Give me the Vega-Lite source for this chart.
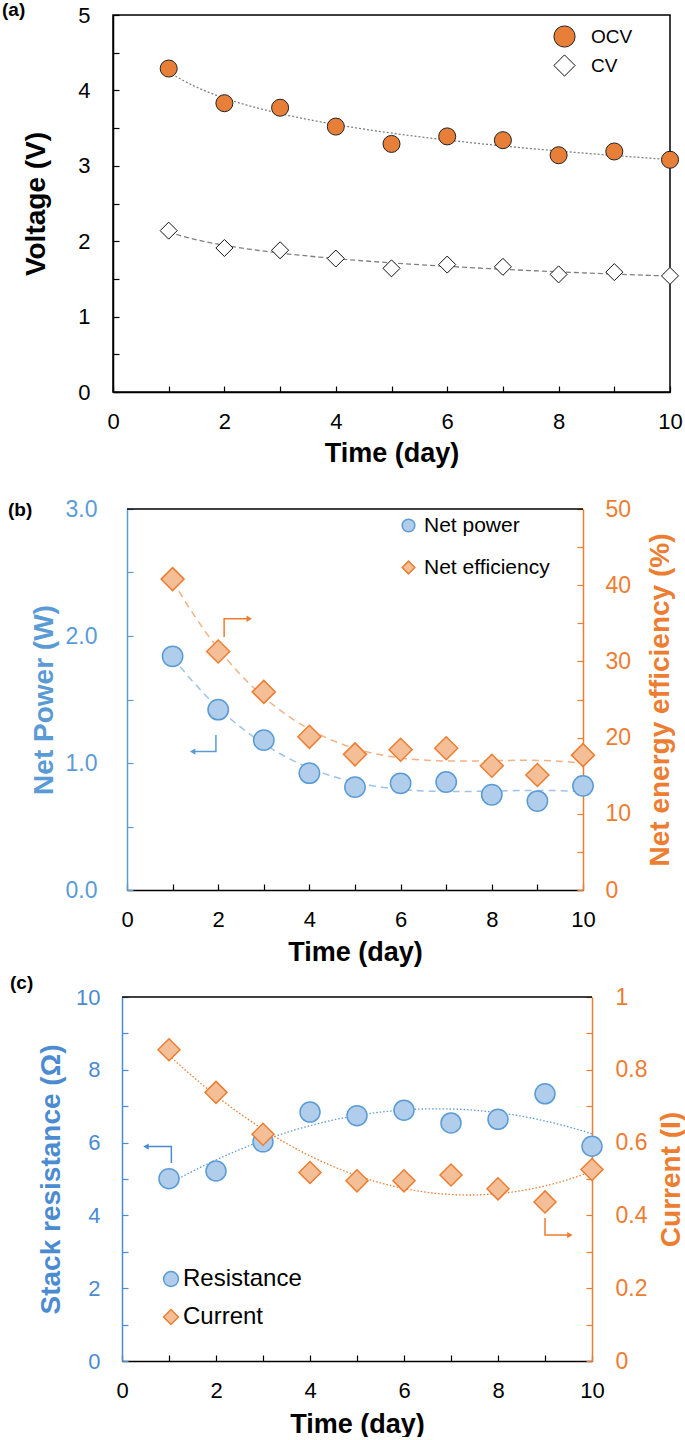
{
  "$schema": "https://vega.github.io/schema/vega-lite/v6.json",
  "padding": {"left": 0, "top": 0, "right": 0, "bottom": 0},
  "background": "#ffffff",
  "config": {
    "font": "Liberation Sans",
    "view": {"stroke": null},
    "axis": {"labelFont": "Liberation Sans", "titleFont": "Liberation Sans", "labelFontSize": 22, "titleFontSize": 28, "titleFontWeight": "bold", "grid": false, "tickSize": -6, "tickWidth": 1.2, "domainWidth": 1.5, "labelColor": "#000", "titleColor": "#000", "domainColor": "#000", "tickColor": "#000", "labelFlush": false, "labelOverlap": false},
    "legend": {"labelFont": "Liberation Sans", "padding": 0, "title": null},
    "title": {"font": "Liberation Sans", "fontSize": 19, "fontWeight": "bold", "anchor": "start", "frame": "group", "baseline": "middle", "color": "#000"}
  },
  "spacing": 31,
  "resolve": {"scale": {"fill": "independent", "stroke": "independent", "shape": "independent"}, "legend": {"fill": "independent", "stroke": "independent", "shape": "independent"}},
  "vconcat": [
    {
      "spacing": 0,
      "resolve": {"scale": {"fill": "independent", "stroke": "independent", "shape": "independent"}, "legend": {"fill": "independent", "stroke": "independent", "shape": "independent"}},
      "hconcat": [
        {"width": 1, "height": 1, "data": {"values": [{}]}, "mark": {"type": "text", "text": ""}, "encoding": {}},
        {
          "width": 557,
          "height": 377,
          "title": {"text": "(a)", "dx": -111, "offset": -16},
          "view": {"stroke": "#000", "strokeWidth": 1.5},
          "data": {"values": [
            {"day": 1, "series": "OCV", "v": 4.29}, {"day": 2, "series": "OCV", "v": 3.83}, {"day": 3, "series": "OCV", "v": 3.77}, {"day": 4, "series": "OCV", "v": 3.52}, {"day": 5, "series": "OCV", "v": 3.29},
            {"day": 6, "series": "OCV", "v": 3.39}, {"day": 7, "series": "OCV", "v": 3.34}, {"day": 8, "series": "OCV", "v": 3.14}, {"day": 9, "series": "OCV", "v": 3.19}, {"day": 10, "series": "OCV", "v": 3.08},
            {"day": 1, "series": "CV", "v": 2.14}, {"day": 2, "series": "CV", "v": 1.91}, {"day": 3, "series": "CV", "v": 1.88}, {"day": 4, "series": "CV", "v": 1.77}, {"day": 5, "series": "CV", "v": 1.64},
            {"day": 6, "series": "CV", "v": 1.69}, {"day": 7, "series": "CV", "v": 1.66}, {"day": 8, "series": "CV", "v": 1.56}, {"day": 9, "series": "CV", "v": 1.59}, {"day": 10, "series": "CV", "v": 1.54}
          ]},
          "encoding": {
            "x": {"field": "day", "type": "quantitative", "scale": {"domain": [0, 10], "nice": false}, "axis": {"title": "Time (day)", "values": [0, 1, 2, 3, 4, 5, 6, 7, 8, 9, 10], "labelExpr": "datum.value % 2 == 0 ? datum.label : ''", "labelPadding": 25, "titlePadding": 8, "titleFontSize": 27}},
            "y": {"field": "v", "type": "quantitative", "scale": {"domain": [0, 5], "nice": false}, "axis": {"title": "Voltage (V)", "values": [0, 0.5, 1, 1.5, 2, 2.5, 3, 3.5, 4, 4.5, 5], "labelExpr": "datum.value % 1 == 0 ? format(datum.value, 'd') : ''", "labelPadding": 29, "titlePadding": 27}}
          },
          "layer": [
            {"transform": [{"filter": "datum.series == 'OCV'"}, {"regression": "v", "on": "day", "method": "log"}], "mark": {"type": "line", "color": "#808080", "strokeWidth": 1.3, "strokeDash": [2, 2]}},
            {"transform": [{"filter": "datum.series == 'CV'"}, {"regression": "v", "on": "day", "method": "log"}], "mark": {"type": "line", "color": "#808080", "strokeWidth": 1.3, "strokeDash": [5, 3]}},
            {
              "mark": {"type": "point", "filled": true, "size": 290, "strokeWidth": 1, "opacity": 1},
              "encoding": {
                "fill": {"field": "series", "type": "nominal", "scale": {"domain": ["OCV", "CV"], "range": ["#E77F38", "#FFFFFF"]}, "legend": {"orient": "none", "legendX": 440, "legendY": 10, "symbolSize": 450, "labelFontSize": 19, "labelOffset": 15, "rowPadding": 2, "symbolStrokeWidth": 1}},
                "stroke": {"field": "series", "type": "nominal", "scale": {"domain": ["OCV", "CV"], "range": ["#222222", "#111111"]}, "legend": {"orient": "none", "legendX": 440, "legendY": 10, "symbolSize": 450, "labelFontSize": 19, "labelOffset": 15, "rowPadding": 2, "symbolStrokeWidth": 1}},
                "shape": {"field": "series", "type": "nominal", "scale": {"domain": ["OCV", "CV"], "range": ["circle", "diamond"]}, "legend": {"orient": "none", "legendX": 440, "legendY": 10, "symbolSize": 450, "labelFontSize": 19, "labelOffset": 15, "rowPadding": 2, "symbolStrokeWidth": 1}}
              }
            }
          ]
        }
      ]
    },
    {
      "spacing": 9,
      "resolve": {"scale": {"fill": "independent", "stroke": "independent", "shape": "independent"}, "legend": {"fill": "independent", "stroke": "independent", "shape": "independent"}},
      "vconcat": [
        {
          "spacing": 0,
          "resolve": {"scale": {"fill": "independent", "stroke": "independent", "shape": "independent"}, "legend": {"fill": "independent", "stroke": "independent", "shape": "independent"}},
          "hconcat": [
            {"width": 8, "height": 1, "data": {"values": [{}]}, "mark": {"type": "text", "text": ""}, "encoding": {}},
            {
              "width": 456,
              "height": 381,
              "title": {"text": "(b)", "dx": -119, "offset": -22},
              "data": {"values": [
                {"day": 1, "power": 1.84, "eff": 40.8}, {"day": 2, "power": 1.42, "eff": 31.3}, {"day": 3, "power": 1.18, "eff": 26.0}, {"day": 4, "power": 0.92, "eff": 20.1}, {"day": 5, "power": 0.81, "eff": 17.8},
                {"day": 6, "power": 0.84, "eff": 18.4}, {"day": 7, "power": 0.85, "eff": 18.6}, {"day": 8, "power": 0.75, "eff": 16.3}, {"day": 9, "power": 0.70, "eff": 15.1}, {"day": 10, "power": 0.82, "eff": 17.7}
              ]},
              "resolve": {"scale": {"y": "independent"}},
              "layer": [
                {"data": {"values": [{}]}, "mark": {"type": "rule", "color": "#000", "strokeWidth": 1.5}, "encoding": {"y": {"datum": 3, "type": "quantitative", "scale": {"domain": [0, 3]}, "axis": null}}},
                {
                  "encoding": {
                    "x": {"field": "day", "type": "quantitative", "scale": {"domain": [0, 10], "nice": false}, "axis": {"title": "Time (day)", "values": [0, 1, 2, 3, 4, 5, 6, 7, 8, 9, 10], "labelExpr": "datum.value % 2 == 0 ? datum.label : ''", "labelPadding": 25, "titlePadding": 9, "titleFontSize": 27}},
                    "y": {"field": "power", "type": "quantitative", "scale": {"domain": [0, 3], "nice": false}, "axis": {"orient": "left", "title": "Net Power (W)", "values": [0, 0.5, 1, 1.5, 2, 2.5, 3], "labelExpr": "datum.value % 1 == 0 ? format(datum.value, '.1f') : ''", "domainColor": "#5B9BD5", "tickColor": "#5B9BD5", "labelColor": "#5B9BD5", "titleColor": "#5B9BD5", "labelFontSize": 23, "labelPadding": 36, "titlePadding": 7}}
                  },
                  "layer": [
                    {"transform": [{"regression": "power", "on": "day", "method": "poly", "order": 3}], "mark": {"type": "line", "color": "#9DC3E6", "strokeWidth": 1.5, "strokeDash": [7, 5]}},
                    {
                      "mark": {"type": "point", "filled": true, "size": 415, "strokeWidth": 1.5, "opacity": 1},
                      "encoding": {
                        "fill": {"datum": "Net power", "type": "nominal", "scale": {"domain": ["Net power", "Net efficiency"], "range": ["#B0CEEB", "#F4BF97"]}, "legend": {"orient": "none", "legendX": 271, "legendY": 6, "symbolSize": 160, "labelFontSize": 21, "labelOffset": 5, "rowPadding": 20, "symbolStrokeWidth": 1.5}},
                        "stroke": {"datum": "Net power", "type": "nominal", "scale": {"domain": ["Net power", "Net efficiency"], "range": ["#5B9BD5", "#ED7D31"]}, "legend": {"orient": "none", "legendX": 271, "legendY": 6, "symbolSize": 160, "labelFontSize": 21, "labelOffset": 5, "rowPadding": 20, "symbolStrokeWidth": 1.5}},
                        "shape": {"datum": "Net power", "type": "nominal", "scale": {"domain": ["Net power", "Net efficiency"], "range": ["circle", "diamond"]}, "legend": {"orient": "none", "legendX": 271, "legendY": 6, "symbolSize": 160, "labelFontSize": 21, "labelOffset": 5, "rowPadding": 20, "symbolStrokeWidth": 1.5}}
                      }
                    },
                    {"data": {"values": [{"day": 1.95, "power": 1.22, "o": 1}, {"day": 1.95, "power": 1.09, "o": 2}, {"day": 1.44, "power": 1.09, "o": 3}]}, "mark": {"type": "line", "color": "#5B9BD5", "strokeWidth": 1.5}, "encoding": {"order": {"field": "o", "type": "quantitative"}}},
                    {"data": {"values": [{"day": 1.44, "power": 1.09}]}, "mark": {"type": "point", "shape": "triangle-left", "filled": true, "size": 40, "color": "#5B9BD5", "opacity": 1}}
                  ]
                },
                {
                  "encoding": {
                    "x": {"field": "day", "type": "quantitative", "scale": {"domain": [0, 10], "nice": false}, "axis": {"title": "Time (day)", "values": [0, 1, 2, 3, 4, 5, 6, 7, 8, 9, 10], "labelExpr": "datum.value % 2 == 0 ? datum.label : ''", "labelPadding": 25, "titlePadding": 9, "titleFontSize": 27}},
                    "y": {"field": "eff", "type": "quantitative", "scale": {"domain": [0, 50], "nice": false}, "axis": {"orient": "right", "title": "Net energy efficiency (%)", "values": [0, 5, 10, 15, 20, 25, 30, 35, 40, 45, 50], "labelExpr": "datum.value % 10 == 0 ? datum.label : ''", "domainColor": "#ED7D31", "tickColor": "#ED7D31", "labelColor": "#ED7D31", "titleColor": "#ED7D31", "labelFontSize": 23, "labelPadding": 28, "titlePadding": 16, "titleAngle": 270, "titleBaseline": "top", "titleAlign": "center"}}
                  },
                  "layer": [
                    {"transform": [{"regression": "eff", "on": "day", "method": "poly", "order": 3}], "mark": {"type": "line", "color": "#F4B183", "strokeWidth": 1.5, "strokeDash": [7, 5]}},
                    {
                      "mark": {"type": "point", "filled": true, "size": 529, "strokeWidth": 1.5, "opacity": 1},
                      "encoding": {
                        "fill": {"datum": "Net efficiency", "type": "nominal", "scale": {"domain": ["Net power", "Net efficiency"], "range": ["#B0CEEB", "#F4BF97"]}, "legend": {"orient": "none", "legendX": 271, "legendY": 6, "symbolSize": 160, "labelFontSize": 21, "labelOffset": 5, "rowPadding": 20, "symbolStrokeWidth": 1.5}},
                        "stroke": {"datum": "Net efficiency", "type": "nominal", "scale": {"domain": ["Net power", "Net efficiency"], "range": ["#5B9BD5", "#ED7D31"]}, "legend": {"orient": "none", "legendX": 271, "legendY": 6, "symbolSize": 160, "labelFontSize": 21, "labelOffset": 5, "rowPadding": 20, "symbolStrokeWidth": 1.5}},
                        "shape": {"datum": "Net efficiency", "type": "nominal", "scale": {"domain": ["Net power", "Net efficiency"], "range": ["circle", "diamond"]}, "legend": {"orient": "none", "legendX": 271, "legendY": 6, "symbolSize": 160, "labelFontSize": 21, "labelOffset": 5, "rowPadding": 20, "symbolStrokeWidth": 1.5}}
                      }
                    },
                    {"data": {"values": [{"day": 2.13, "eff": 33.2, "o": 1}, {"day": 2.13, "eff": 35.6, "o": 2}, {"day": 2.68, "eff": 35.6, "o": 3}]}, "mark": {"type": "line", "color": "#ED7D31", "strokeWidth": 1.5}, "encoding": {"order": {"field": "o", "type": "quantitative"}}},
                    {"data": {"values": [{"day": 2.68, "eff": 35.6}]}, "mark": {"type": "point", "shape": "triangle-right", "filled": true, "size": 40, "color": "#ED7D31", "opacity": 1}}
                  ]
                }
              ]
            }
          ]
        },
        {
          "spacing": 0,
          "resolve": {"scale": {"fill": "independent", "stroke": "independent", "shape": "independent"}, "legend": {"fill": "independent", "stroke": "independent", "shape": "independent"}},
          "hconcat": [
            {"width": 10, "height": 1, "data": {"values": [{}]}, "mark": {"type": "text", "text": ""}, "encoding": {}},
            {
              "width": 470,
              "height": 364,
              "title": {"text": "(c)", "dx": -112, "offset": -7},
              "data": {"values": [
                {"day": 1, "res": 5.01, "cur": 0.855}, {"day": 2, "res": 5.22, "cur": 0.738}, {"day": 3, "res": 6.02, "cur": 0.623}, {"day": 4, "res": 6.84, "cur": 0.518}, {"day": 5, "res": 6.74, "cur": 0.495},
                {"day": 6, "res": 6.89, "cur": 0.495}, {"day": 7, "res": 6.54, "cur": 0.511}, {"day": 8, "res": 6.64, "cur": 0.473}, {"day": 9, "res": 7.34, "cur": 0.437}, {"day": 10, "res": 5.90, "cur": 0.526}
              ]},
              "resolve": {"scale": {"y": "independent"}},
              "layer": [
                {"data": {"values": [{}]}, "mark": {"type": "rule", "color": "#000", "strokeWidth": 1.5}, "encoding": {"y": {"datum": 10, "type": "quantitative", "scale": {"domain": [0, 10]}, "axis": null}}},
                {
                  "encoding": {
                    "x": {"field": "day", "type": "quantitative", "scale": {"domain": [0, 10], "nice": false}, "axis": {"title": "Time (day)", "values": [0, 1, 2, 3, 4, 5, 6, 7, 8, 9, 10], "labelExpr": "datum.value % 2 == 0 ? datum.label : ''", "labelPadding": 25, "titlePadding": 10, "titleFontSize": 27}},
                    "y": {"field": "res", "type": "quantitative", "scale": {"domain": [0, 10], "nice": false}, "axis": {"orient": "left", "title": "Stack resistance (Ω)", "values": [0, 1, 2, 3, 4, 5, 6, 7, 8, 9, 10], "labelExpr": "datum.value % 2 == 0 ? datum.label : ''", "domainColor": "#4B8BD2", "tickColor": "#4B8BD2", "labelColor": "#4B8BD2", "titleColor": "#4B8BD2", "labelFontSize": 22, "labelPadding": 28, "titlePadding": 10}}
                  },
                  "layer": [
                    {"transform": [{"regression": "res", "on": "day", "method": "poly", "order": 2}], "mark": {"type": "line", "color": "#5B9BD5", "strokeWidth": 1.3, "strokeDash": [1.5, 2]}},
                    {
                      "mark": {"type": "point", "filled": true, "size": 400, "strokeWidth": 1.5, "opacity": 1},
                      "encoding": {
                        "fill": {"datum": "Resistance", "type": "nominal", "scale": {"domain": ["Resistance", "Current"], "range": ["#B0CEEB", "#F4BF97"]}, "legend": {"orient": "none", "legendX": 37, "legendY": 270, "symbolSize": 220, "labelFontSize": 24, "labelOffset": 0, "rowPadding": 14, "symbolStrokeWidth": 1.5}},
                        "stroke": {"datum": "Resistance", "type": "nominal", "scale": {"domain": ["Resistance", "Current"], "range": ["#5B9BD5", "#ED7D31"]}, "legend": {"orient": "none", "legendX": 37, "legendY": 270, "symbolSize": 220, "labelFontSize": 24, "labelOffset": 0, "rowPadding": 14, "symbolStrokeWidth": 1.5}},
                        "shape": {"datum": "Resistance", "type": "nominal", "scale": {"domain": ["Resistance", "Current"], "range": ["circle", "diamond"]}, "legend": {"orient": "none", "legendX": 37, "legendY": 270, "symbolSize": 220, "labelFontSize": 24, "labelOffset": 0, "rowPadding": 14, "symbolStrokeWidth": 1.5}}
                      }
                    },
                    {"data": {"values": [{"day": 1.05, "res": 5.44, "o": 1}, {"day": 1.05, "res": 5.89, "o": 2}, {"day": 0.51, "res": 5.89, "o": 3}]}, "mark": {"type": "line", "color": "#4B8BD2", "strokeWidth": 1.5}, "encoding": {"order": {"field": "o", "type": "quantitative"}}},
                    {"data": {"values": [{"day": 0.51, "res": 5.89}]}, "mark": {"type": "point", "shape": "triangle-left", "filled": true, "size": 40, "color": "#4B8BD2", "opacity": 1}}
                  ]
                },
                {
                  "encoding": {
                    "x": {"field": "day", "type": "quantitative", "scale": {"domain": [0, 10], "nice": false}, "axis": {"title": "Time (day)", "values": [0, 1, 2, 3, 4, 5, 6, 7, 8, 9, 10], "labelExpr": "datum.value % 2 == 0 ? datum.label : ''", "labelPadding": 25, "titlePadding": 10, "titleFontSize": 27}},
                    "y": {"field": "cur", "type": "quantitative", "scale": {"domain": [0, 1], "nice": false}, "axis": {"orient": "right", "title": "Current (I)", "values": [0, 0.1, 0.2, 0.3, 0.4, 0.5, 0.6, 0.7, 0.8, 0.9, 1], "labelExpr": "round(datum.value * 10) % 2 == 0 ? format(datum.value, '~g') : ''", "domainColor": "#ED7D31", "tickColor": "#ED7D31", "labelColor": "#ED7D31", "titleColor": "#ED7D31", "labelFontSize": 23, "labelPadding": 29, "titlePadding": 11, "titleAngle": 270, "titleBaseline": "top", "titleAlign": "center"}}
                  },
                  "layer": [
                    {"transform": [{"regression": "cur", "on": "day", "method": "poly", "order": 2}], "mark": {"type": "line", "color": "#ED7D31", "strokeWidth": 1.3, "strokeDash": [1.5, 2]}},
                    {
                      "mark": {"type": "point", "filled": true, "size": 484, "strokeWidth": 1.5, "opacity": 1},
                      "encoding": {
                        "fill": {"datum": "Current", "type": "nominal", "scale": {"domain": ["Resistance", "Current"], "range": ["#B0CEEB", "#F4BF97"]}, "legend": {"orient": "none", "legendX": 37, "legendY": 270, "symbolSize": 220, "labelFontSize": 24, "labelOffset": 0, "rowPadding": 14, "symbolStrokeWidth": 1.5}},
                        "stroke": {"datum": "Current", "type": "nominal", "scale": {"domain": ["Resistance", "Current"], "range": ["#5B9BD5", "#ED7D31"]}, "legend": {"orient": "none", "legendX": 37, "legendY": 270, "symbolSize": 220, "labelFontSize": 24, "labelOffset": 0, "rowPadding": 14, "symbolStrokeWidth": 1.5}},
                        "shape": {"datum": "Current", "type": "nominal", "scale": {"domain": ["Resistance", "Current"], "range": ["circle", "diamond"]}, "legend": {"orient": "none", "legendX": 37, "legendY": 270, "symbolSize": 220, "labelFontSize": 24, "labelOffset": 0, "rowPadding": 14, "symbolStrokeWidth": 1.5}}
                      }
                    },
                    {"data": {"values": [{"day": 9.0, "cur": 0.393, "o": 1}, {"day": 9.0, "cur": 0.346, "o": 2}, {"day": 9.53, "cur": 0.346, "o": 3}]}, "mark": {"type": "line", "color": "#ED7D31", "strokeWidth": 1.5}, "encoding": {"order": {"field": "o", "type": "quantitative"}}},
                    {"data": {"values": [{"day": 9.53, "cur": 0.346}]}, "mark": {"type": "point", "shape": "triangle-right", "filled": true, "size": 40, "color": "#ED7D31", "opacity": 1}}
                  ]
                }
              ]
            }
          ]
        }
      ]
    }
  ]
}
